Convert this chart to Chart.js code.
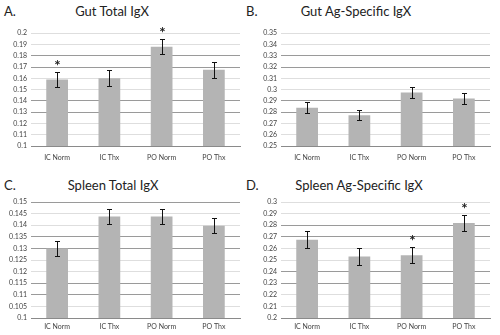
<!DOCTYPE html>
<html>
<head>
<meta charset="utf-8">
<script src="https://cdn.jsdelivr.net/npm/chart.js@4.4.1/dist/chart.umd.min.js"></script>
<style>
  body { margin: 0; background: #fff; width: 500px; height: 335px; position: relative; overflow: hidden; font-family: Lato, "Open Sans", sans-serif; }
  canvas { position: absolute; }
  .lbl { position: absolute; font-size: 13px; color: #222; line-height: 1; }
  .ttl { position: absolute; font-size: 13px; color: #222; line-height: 1; transform: translateX(-50%); white-space: nowrap; }
</style>
</head>
<body>
<div class="lbl" style="left:4px;top:5px">A.</div>
<div class="ttl" style="left:112px;top:5px">Gut Total IgX</div>
<div class="lbl" style="left:246px;top:5px">B.</div>
<div class="ttl" style="left:356px;top:5px">Gut Ag-Specific IgX</div>
<div class="lbl" style="left:4px;top:179px">C.</div>
<div class="ttl" style="left:113px;top:179px">Spleen Total IgX</div>
<div class="lbl" style="left:246px;top:179px">D.</div>
<div class="ttl" style="left:359px;top:179px">Spleen Ag-Specific IgX</div>

<canvas id="chartA" width="248" height="145" style="left:0;top:25px"></canvas>
<canvas id="chartB" width="248" height="145" style="left:250px;top:25px"></canvas>
<canvas id="chartC" width="248" height="145" style="left:0;top:190px"></canvas>
<canvas id="chartD" width="248" height="145" style="left:250px;top:190px"></canvas>

<script>
// Groups on the x axis
const groups = ['IC Norm', 'IC Thx', 'PO Norm', 'PO Thx'];

// A. Gut total
const gutTotal = [0.159, 0.160, 0.188, 0.1675];
const gutTotalErr = [0.0068, 0.007, 0.0066, 0.0069];
const gutTotalSig = ['*', '', '*', ''];

// B. Gut antigen-specific
const gutAg = [0.284, 0.2773, 0.2975, 0.2922];
const gutAgErr = [0.0046, 0.0044, 0.0046, 0.0049];
const gutAgSig = ['', '', '', ''];

// C. Spleen total
const spleenTotal = [0.130, 0.1437, 0.1437, 0.1398];
const spleenTotalErr = [0.0033, 0.0033, 0.0033, 0.0032];
const spleenTotalSig = ['', '', '', ''];

// D. Spleen antigen-specific
const spleenAg = [0.2675, 0.253, 0.254, 0.282];
const spleenAgErr = [0.0072, 0.0072, 0.0068, 0.007];
const spleenAgSig = ['', '', '*', '*'];

// y axis ranges [min, max, step]
const rangeA = [0.1, 0.2, 0.01];
const rangeB = [0.25, 0.35, 0.01];
const rangeC = [0.1, 0.15, 0.005];
const rangeD = [0.2, 0.3, 0.01];

// Draw error bars and significance stars on top of the bars
const errorBars = {
    id: 'errorBars',
    afterDatasetsDraw(chart) {
        const { ctx, scales: { x, y } } = chart;
        const ds = chart.data.datasets[0];
        ctx.save();
        ctx.strokeStyle = '#111';
        ctx.lineWidth = 1;
        ds.data.forEach((v, i) => {
            const px = Math.round(x.getPixelForValue(i)) + 0.5;
            const top = Math.round(y.getPixelForValue(v + ds.errors[i])) + 0.5;
            const bot = Math.round(y.getPixelForValue(v - ds.errors[i])) + 0.5;
            ctx.beginPath();
            ctx.moveTo(px, top); ctx.lineTo(px, bot);
            ctx.moveTo(px - 2.5, top); ctx.lineTo(px + 2.5, top);
            ctx.moveTo(px - 2.5, bot); ctx.lineTo(px + 2.5, bot);
            ctx.stroke();
            if (ds.sig[i]) {
                ctx.fillStyle = '#222';
                ctx.font = 'bold 15px Lato';
                ctx.textAlign = 'center';
                ctx.textBaseline = 'middle';
                ctx.fillText(ds.sig[i], px, top - 6);
            }
        });
        ctx.restore();
    }
};

function makeChart(id, values, errors, sig, range, opts) {
    const [min, max, step] = range;
    const n = Math.round((max - min) / step) + 1;
    return new Chart(document.getElementById(id), {
        type: 'bar',
        data: {
            labels: groups,
            datasets: [{
                data: values,
                errors: errors,
                sig: sig,
                backgroundColor: '#b4b4b4',
                barPercentage: 0.8,
                categoryPercentage: 0.52
            }]
        },
        options: {
            responsive: false,
            animation: false,
            layout: { padding: { top: opts.top, right: 8, bottom: 0, left: 0 } },
            plugins: { legend: { display: false }, tooltip: { enabled: false } },
            scales: {
                x: {
                    grid: { display: false, drawTicks: false },
                    border: { color: '#8a8a8a' },
                    ticks: { color: '#444', font: { size: 7, family: 'Lato' }, padding: opts.xpad, maxRotation: 0, autoSkip: false },
                    afterFit: s => { s.height = opts.xh; }
                },
                y: {
                    min: min, max: max,
                    border: { display: false },
                    grid: {
                        drawTicks: false,
                        color: c => ((n - 1 - c.index + opts.phase) % 4 >= 2 ? '#9a9a9a' : '#dedede')
                    },
                    ticks: {
                        stepSize: step, color: '#444', padding: 4, autoSkip: false,
                        font: { size: 7, family: 'Lato' },
                        callback: v => String(parseFloat(v.toFixed(3)))
                    },
                    afterFit: s => { s.width = 31; }
                }
            }
        },
        plugins: [errorBars]
    });
}

makeChart('chartA', gutTotal, gutTotalErr, gutTotalSig, rangeA, { top: 7, xh: 24, xpad: 8, phase: 0 });
makeChart('chartB', gutAg, gutAgErr, gutAgSig, rangeB, { top: 8, xh: 24, xpad: 8, phase: 0 });
makeChart('chartC', spleenTotal, spleenTotalErr, spleenTotalSig, rangeC, { top: 12, xh: 17, xpad: 5, phase: 3 });
makeChart('chartD', spleenAg, spleenAgErr, spleenAgSig, rangeD, { top: 12, xh: 17, xpad: 5, phase: 0 });
</script>
</body>
</html>
